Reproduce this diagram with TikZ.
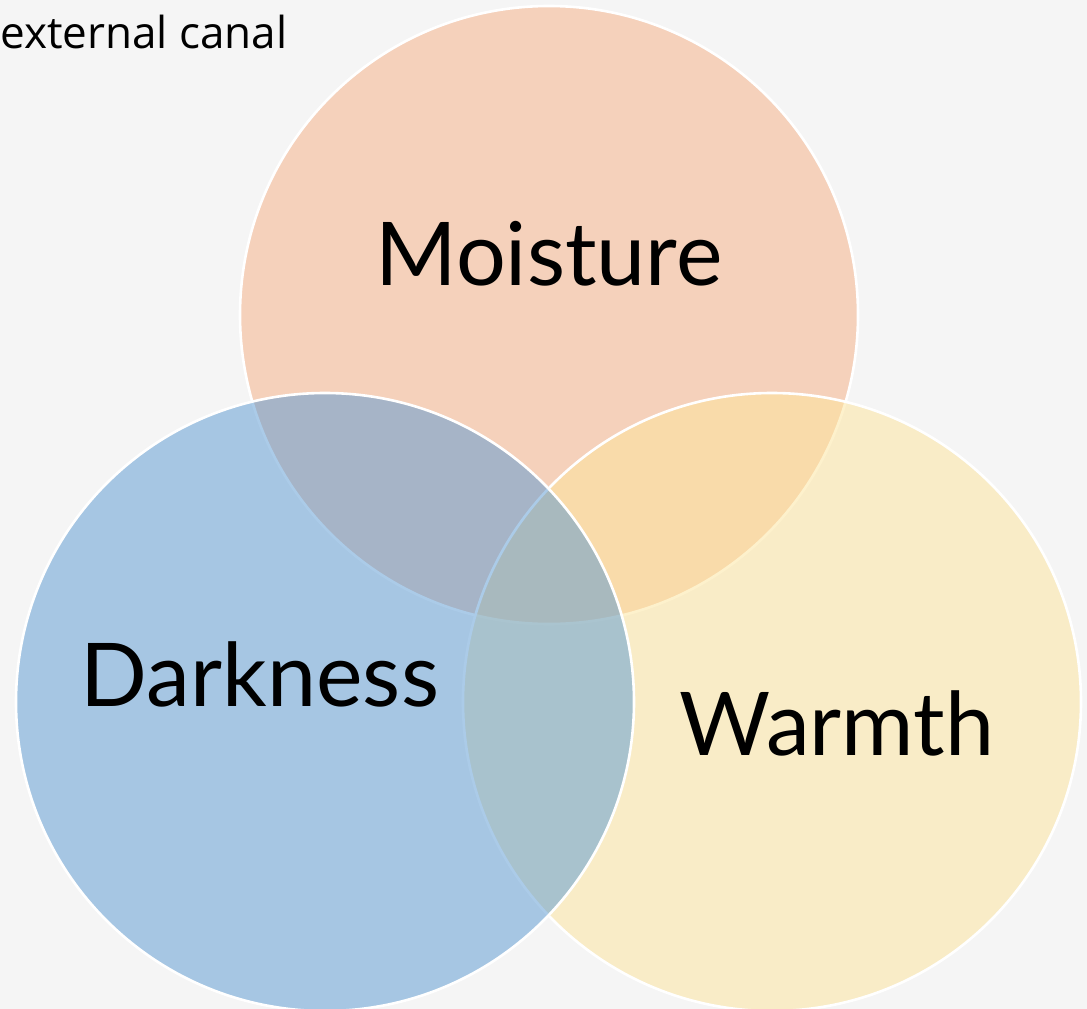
\documentclass[tikz,border=0pt]{standalone}
\usepackage{fontspec}
\setmainfont{Lato}
\newfontfamily\notefont{Open Sans}
\definecolor{bgcol}{HTML}{F5F5F5}
\definecolor{moistcol}{HTML}{F5AF83}
\definecolor{darkcol}{HTML}{5999D3}
\definecolor{warmcol}{HTML}{FDE59B}
\begin{document}
\begin{tikzpicture}[x=1pt,y=-1pt,
  venn/.style={draw=white,line width=2.6pt,fill opacity=.5},
  setlabel/.style={inner sep=0pt,anchor=base,font=\fontsize{88}{96}\selectfont}]
  \useasboundingbox[fill=bgcol] (0,0) rectangle (1087,1009);
  % Blue goes last so its rim stays white over the other two.
  \draw[venn,fill=moistcol] (549,315) circle[radius=309pt];
  \draw[venn,fill=warmcol] (772,702) circle[radius=309pt];
  \draw[venn,fill=darkcol] (325,702) circle[radius=309pt];
  \node[setlabel] (moisture) at (549,285) {Moisture};
  \node[setlabel] (darkness) at (260,706) {Darkness};
  \node[setlabel] (warmth) at (837,755) {Warmth};
  \node[inner sep=0pt,anchor=base west,font=\notefont\fontsize{44}{50}\selectfont]
    (canal) at (0,48) {external canal};
\end{tikzpicture}
\end{document}
